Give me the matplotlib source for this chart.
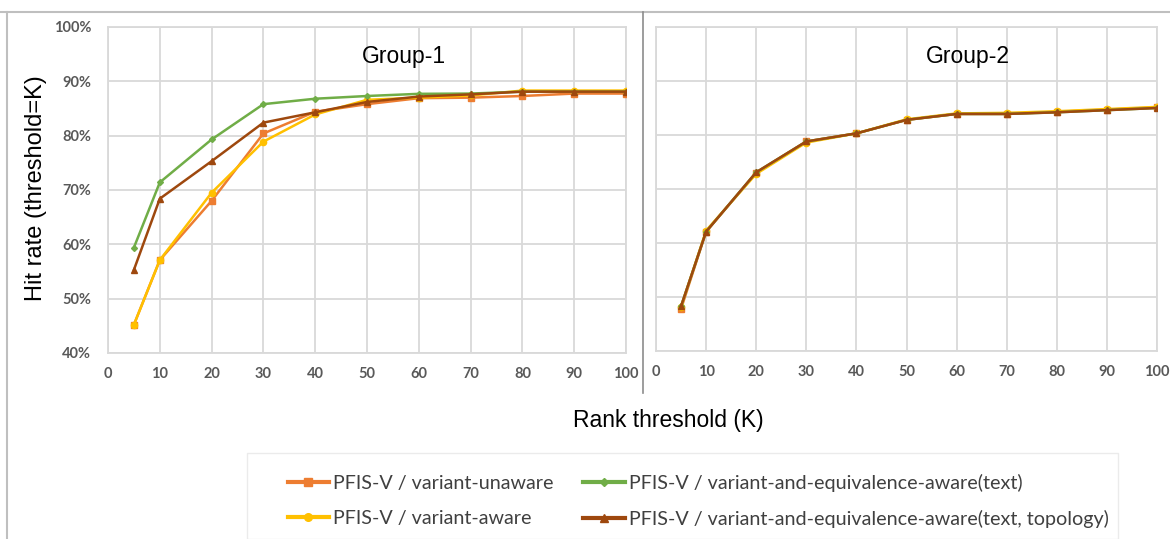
import matplotlib
matplotlib.use("Agg")
import matplotlib.pyplot as plt
from matplotlib.lines import Line2D
from matplotlib.patches import Rectangle

# ---- data ----
k_values = [5, 10, 20, 30, 40, 50, 60, 70, 80, 90, 100]
series_labels = [
    "PFIS-V / variant-unaware",
    "PFIS-V / variant-aware",
    "PFIS-V / variant-and-equivalence-aware(text)",
    "PFIS-V / variant-and-equivalence-aware(text, topology)",
]
group1_unaware = [45.2, 57.1, 68.0, 80.4, 84.4, 85.8, 86.9, 87.0, 87.3, 87.75, 87.75]
group1_aware = [45.2, 57.1, 69.5, 78.9, 83.9, 86.6, 87.0, 87.4, 88.3, 88.3, 88.3]
group1_text = [59.4, 71.4, 79.3, 85.8, 86.8, 87.3, 87.7, 87.75, 88.1, 88.1, 88.1]
group1_topo = [55.3, 68.4, 75.3, 82.4, 84.3, 86.2, 87.2, 87.6, 88.1, 88.1, 88.1]

group2_unaware = [47.8, 62.1, 73.0, 78.8, 80.3, 82.8, 83.9, 83.9, 84.3, 84.7, 85.1]
group2_aware = [48.2, 62.3, 72.8, 78.6, 80.3, 82.9, 84.0, 84.1, 84.4, 84.8, 85.2]
group2_text = [48.3, 62.1, 73.1, 78.8, 80.3, 82.8, 83.9, 83.9, 84.2, 84.6, 85.0]
group2_topo = [48.3, 62.1, 73.1, 78.8, 80.3, 82.8, 83.9, 83.9, 84.2, 84.6, 85.0]

y_ticks = [40, 50, 60, 70, 80, 90, 100]
y_tick_labels = ["40%", "50%", "60%", "70%", "80%", "90%", "100%"]
x_ticks = [0, 10, 20, 30, 40, 50, 60, 70, 80, 90, 100]
panel_titles = ["Group-1", "Group-2"]

colors = ["#ED7D31", "#FFC000", "#70AD47", "#9E480E"]
markers = ["s", "o", "D", "^"]
msizes = [4.5, 4.5, 3, 4.5]

W, H = 1170, 539
fig = plt.figure(figsize=(W / 100, H / 100), dpi=100)

def fx(px):
    return px / W

def fy(py):
    return 1 - py / H

ax1 = fig.add_axes([fx(108), fy(353), fx(626 - 108), fy(27) - fy(353)])
ax2 = fig.add_axes([fx(656), fy(351), fx(1157 - 656), fy(27) - fy(351)])

grid_c = "#D9D9D9"
tick_c = "#595959"
tick_font = dict(family="Lato", weight="bold", size=10.5)

groups = [
    [group1_unaware, group1_aware, group1_text, group1_topo],
    [group2_unaware, group2_aware, group2_text, group2_topo],
]
order = [2, 0, 1, 3]  # draw order (green below, brown on top)
title_x = [0.571, 0.623]

for ax, data, title, tx in zip([ax1, ax2], groups, panel_titles, title_x):
    ax.set_xlim(0, 100)
    ax.set_ylim(40, 100)
    ax.set_xticks(x_ticks)
    ax.set_yticks(y_ticks)
    ax.grid(True, color=grid_c, linewidth=1.3)
    ax.set_axisbelow(True)
    for s in ax.spines.values():
        s.set_color(grid_c)
        s.set_linewidth(1.3)
    ax.tick_params(length=0, pad=10, colors=tick_c)
    ax.set_xticklabels([str(v) for v in x_ticks], **tick_font)
    for i in order:
        ax.plot(k_values, data[i], color=colors[i], marker=markers[i],
                markersize=msizes[i], linewidth=1.8, zorder=3 + i)
    ax.text(tx, 0.908, title, transform=ax.transAxes, ha="center",
            va="center", fontsize=16.5, family="Liberation Sans", color="black")

ax1.set_yticklabels(y_tick_labels, **tick_font)
ax1.tick_params(axis="y", pad=12)
ax2.set_yticklabels([])

fig.text(fx(36), fy(188), "Hit rate (threshold=K)", rotation=90, ha="center",
         va="center", fontsize=17, family="Liberation Sans", color="black")
fig.text(fx(668), fy(421), "Rank threshold (K)", ha="center", va="center",
         fontsize=16.5, family="Liberation Sans", color="black")

# frame lines
frame_c = "#BFBFBF"
fig.add_artist(Line2D([0, 1], [fy(12), fy(12)], color=frame_c, linewidth=1.5))
fig.add_artist(Line2D([fx(7), fx(7)], [fy(12), 0], color=frame_c, linewidth=1.5))
fig.add_artist(Line2D([fx(643), fx(643)], [fy(12), fy(393)], color="#8C8C8C",
                      linewidth=1.2))

# legend box
fig.add_artist(Rectangle((fx(247), 0), fx(1118 - 247), fy(453), transform=fig.transFigure,
                         facecolor="white", edgecolor="#EBEBEB", linewidth=1))

handles = [Line2D([0], [0], color=colors[i], marker=markers[i], markersize=msizes[i] + 1,
                  linewidth=3) for i in range(4)]
leg = fig.legend(handles, series_labels, ncol=2, loc="center left",
                 bbox_to_anchor=(fx(270), fy(501)), frameon=False,
                 prop=dict(family="Lato", size=14.2), labelcolor="#404040",
                 handlelength=2.1, handletextpad=0.2, columnspacing=1.5,
                 labelspacing=0.9)

fig.savefig("out.png", dpi=100)
